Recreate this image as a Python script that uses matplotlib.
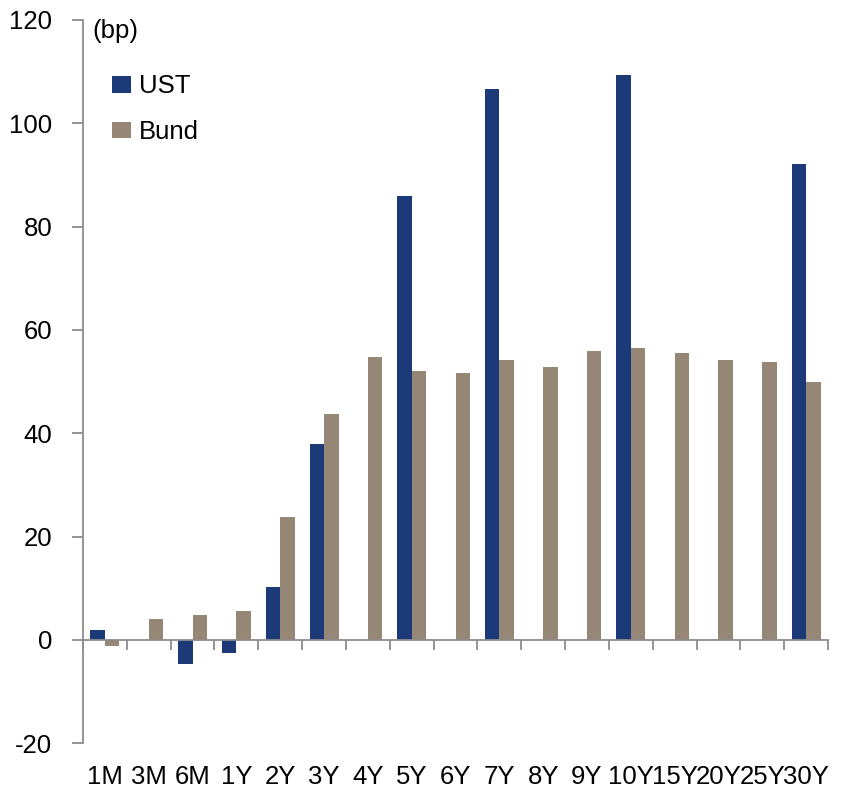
import numpy as np
import matplotlib.pyplot as plt
from matplotlib import font_manager

# spread changes by tenor, in basis points
tenors = ["1M", "3M", "6M", "1Y", "2Y", "3Y", "4Y", "5Y", "6Y", "7Y", "8Y",
          "9Y", "10Y", "15Y", "20Y", "25Y", "30Y"]
ust = [1.9, np.nan, -4.6, -2.6, 10.2, 38.0, np.nan, 86.0, np.nan, 106.6,
       np.nan, np.nan, 109.4, np.nan, np.nan, np.nan, 92.1]
bund = [-1.1, 4.0, 4.9, 5.7, 23.8, 43.7, 54.7, 52.1, 51.7, 54.1, 52.9,
        55.9, 56.6, 55.6, 54.1, 53.8, 50.0]
yticks = [-20, 0, 20, 40, 60, 80, 100, 120]

UST_COLOR = "#1C3A78"
BUND_COLOR = "#968676"
AXIS_GRAY = "#8C8C8C"

names = {f.name for f in font_manager.fontManager.ttflist}
family = ["Liberation Sans Narrow"] if "Liberation Sans Narrow" in names else ["Liberation Sans"]
plt.rcParams["font.family"] = family
plt.rcParams["axes.unicode_minus"] = False
FS = 18.5

fig = plt.figure(figsize=(8.43, 7.93), dpi=100)
ax = fig.add_axes([0.0985, 0.0627, 0.9822 - 0.0985, 0.9748 - 0.0627])

x = np.arange(len(tenors))
w = 0.33
ax.bar(x - w / 2, ust, width=w, color=UST_COLOR, label="UST")
ax.bar(x + w / 2, bund, width=w, color=BUND_COLOR, label="Bund")

ax.set_xlim(-0.5, len(tenors) - 0.5)
ax.set_ylim(-20, 120)
ax.set_yticks(yticks)
ax.tick_params(axis="y", direction="out", length=8, width=1.3, color=AXIS_GRAY,
               labelsize=FS, pad=14)

# category boundaries as ticks on the zero line
ax.set_xticks(np.arange(-0.5, len(tenors), 1.0))
ax.set_xticklabels([])
ax.tick_params(axis="x", direction="out", length=7, width=1.3, color=AXIS_GRAY)

for side in ("top", "right"):
    ax.spines[side].set_visible(False)
ax.spines["bottom"].set_position(("data", 0))
for side in ("left", "bottom"):
    ax.spines[side].set_color(AXIS_GRAY)
    ax.spines[side].set_linewidth(1.3)

# tenor labels under the plot area
for xi, t in zip(x, tenors):
    ax.text(xi, -0.046, t, transform=ax.get_xaxis_transform(), ha="center",
            va="center", fontsize=FS)

ax.text(0.013, 0.985, "(bp)", transform=ax.transAxes, ha="left", va="center",
        fontsize=FS)

ax.legend(loc="upper left", bbox_to_anchor=(0.039, 0.925), frameon=False,
          fontsize=FS, handlelength=0.735, handleheight=0.62, handletextpad=0.3,
          labelspacing=0.85, borderpad=0, borderaxespad=0)

fig.savefig("out.png", dpi=100)
